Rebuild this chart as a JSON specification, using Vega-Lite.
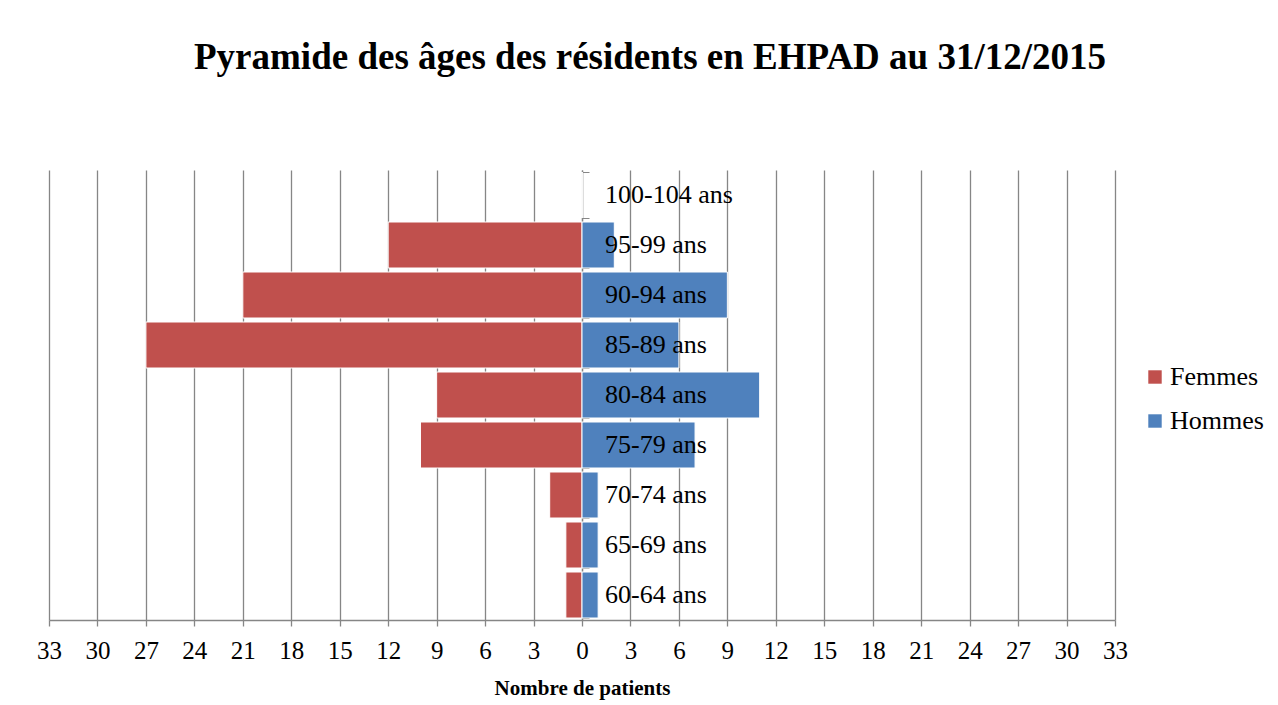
{
  "$schema": "https://vega.github.io/schema/vega-lite/v6.json",
  "autosize": {"type": "none"},
  "width": 1066,
  "height": 450,
  "padding": {"left": 49, "top": 170, "right": 163, "bottom": 85},
  "background": "white",
  "config": {
    "font": "Liberation Serif",
    "view": {"stroke": null}
  },
  "title": {
    "text": "Pyramide des âges des résidents en EHPAD au 31/12/2015",
    "font": "Liberation Serif",
    "fontSize": 37,
    "fontWeight": "bold",
    "color": "black",
    "anchor": "middle",
    "dx": 68,
    "offset": 93
  },
  "datasets": {
    "pop": [
      {"age": "100-104 ans", "sexe": "Femmes", "n": 0},
      {"age": "100-104 ans", "sexe": "Hommes", "n": 0},
      {"age": "95-99 ans", "sexe": "Femmes", "n": -12},
      {"age": "95-99 ans", "sexe": "Hommes", "n": 2},
      {"age": "90-94 ans", "sexe": "Femmes", "n": -21},
      {"age": "90-94 ans", "sexe": "Hommes", "n": 9},
      {"age": "85-89 ans", "sexe": "Femmes", "n": -27},
      {"age": "85-89 ans", "sexe": "Hommes", "n": 6},
      {"age": "80-84 ans", "sexe": "Femmes", "n": -9},
      {"age": "80-84 ans", "sexe": "Hommes", "n": 11},
      {"age": "75-79 ans", "sexe": "Femmes", "n": -10},
      {"age": "75-79 ans", "sexe": "Hommes", "n": 7},
      {"age": "70-74 ans", "sexe": "Femmes", "n": -2},
      {"age": "70-74 ans", "sexe": "Hommes", "n": 1},
      {"age": "65-69 ans", "sexe": "Femmes", "n": -1},
      {"age": "65-69 ans", "sexe": "Hommes", "n": 1},
      {"age": "60-64 ans", "sexe": "Femmes", "n": -1},
      {"age": "60-64 ans", "sexe": "Hommes", "n": 1}
    ],
    "ages": [
      {"age": "100-104 ans"}, {"age": "95-99 ans"}, {"age": "90-94 ans"},
      {"age": "85-89 ans"}, {"age": "80-84 ans"}, {"age": "75-79 ans"},
      {"age": "70-74 ans"}, {"age": "65-69 ans"}, {"age": "60-64 ans"}
    ]
  },
  "layer": [
    {
      "data": {"name": "pop"},
      "mark": {"type": "bar", "stroke": "white", "strokeWidth": 1},
      "encoding": {
        "y": {
          "field": "age", "type": "nominal",
          "sort": ["100-104 ans", "95-99 ans", "90-94 ans", "85-89 ans", "80-84 ans", "75-79 ans", "70-74 ans", "65-69 ans", "60-64 ans"],
          "scale": {"paddingInner": 0.08, "paddingOuter": 0.04},
          "axis": {
            "orient": "left", "offset": -533, "labels": false, "title": null,
            "domainColor": "#868686", "domainWidth": 1.3, "tickColor": "#868686", "tickSize": -7,
            "tickBand": "extent", "grid": false
          }
        },
        "x": {
          "field": "n", "type": "quantitative", "stack": null,
          "scale": {"domain": [-33, 33], "nice": false},
          "axis": {
            "values": [-33, -30, -27, -24, -21, -18, -15, -12, -9, -6, -3, 0, 3, 6, 9, 12, 15, 18, 21, 24, 27, 30, 33],
            "labelExpr": "abs(datum.value)",
            "labelFont": "Liberation Serif", "labelFontSize": 25, "labelColor": "black",
            "labelPadding": 12, "labelFlush": false, "labelOverlap": false, "labelBound": false,
            "grid": true, "gridColor": "#868686", "gridWidth": 1.3,
            "domainColor": "#868686", "domainWidth": 1.3,
            "tickColor": "#868686", "tickSize": 6, "tickWidth": 1.3,
            "title": "Nombre de patients",
            "titleFont": "Liberation Serif", "titleFontSize": 21, "titleFontWeight": "bold",
            "titleColor": "black", "titlePadding": 14
          }
        },
        "color": {
          "field": "sexe", "type": "nominal",
          "scale": {"domain": ["Femmes", "Hommes"], "range": ["#C0504D", "#4F81BD"]},
          "legend": {
            "title": null, "orient": "none", "legendX": 1093, "legendY": 194,
            "symbolType": "square", "symbolSize": 180, "symbolStrokeWidth": 0,
            "labelFont": "Liberation Serif", "labelFontSize": 26, "labelColor": "black",
            "rowPadding": 18, "labelOffset": 2
          }
        }
      }
    },
    {
      "data": {"name": "ages"},
      "mark": {"type": "text", "align": "left", "baseline": "middle", "dx": 23, "font": "Liberation Serif", "fontSize": 26, "color": "black"},
      "encoding": {
        "y": {"field": "age", "type": "nominal", "sort": ["100-104 ans", "95-99 ans", "90-94 ans", "85-89 ans", "80-84 ans", "75-79 ans", "70-74 ans", "65-69 ans", "60-64 ans"]},
        "x": {"datum": 0, "type": "quantitative"},
        "text": {"field": "age"}
      }
    }
  ]
}
